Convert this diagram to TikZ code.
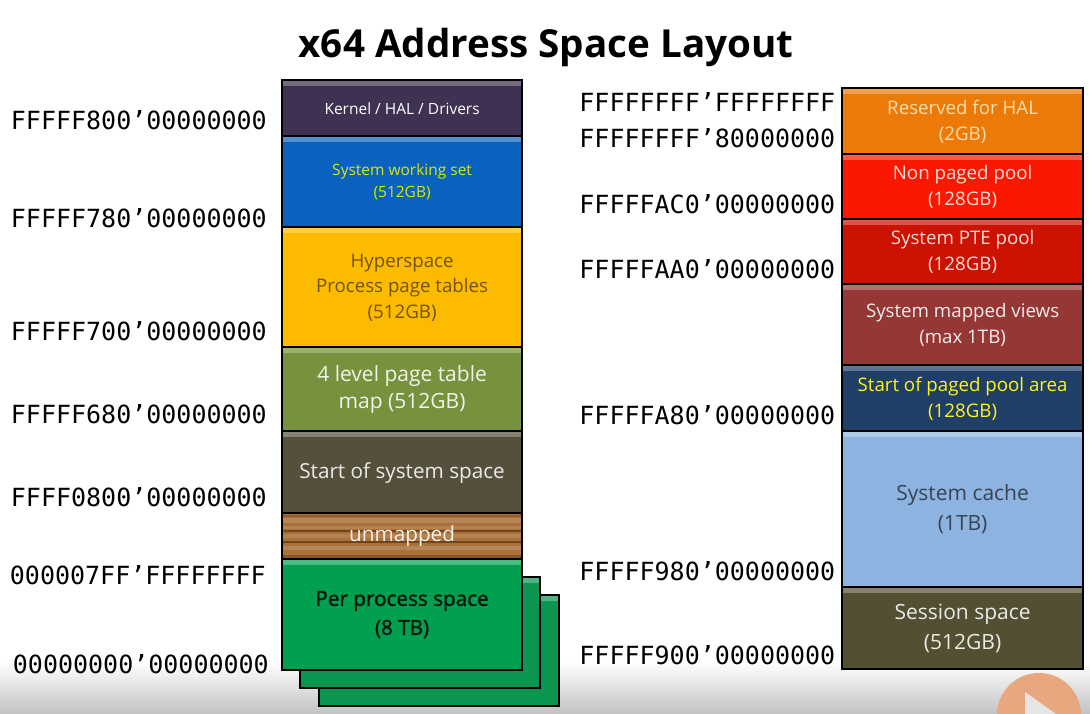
\documentclass[tikz,border=0pt]{standalone}
\usepackage{fontspec}
\setmainfont{Open Sans}
\newfontfamily\addrfont{DejaVu Sans Mono}
\newfontfamily\titlefont{Open Sans}[BoldFont={Open Sans Bold}]
\definecolor{cKernel}{HTML}{3F3151}
\definecolor{cWork}{HTML}{0A62BE}
\definecolor{cHyper}{HTML}{FDBB00}
\definecolor{cLevel}{HTML}{76923C}
\definecolor{cStart}{HTML}{55503C}
\definecolor{cWood}{HTML}{A9703A}
\definecolor{cGrain}{HTML}{5E3A16}
\definecolor{cGreen}{HTML}{00A050}
\definecolor{cSheet}{HTML}{0B9550}
\definecolor{cHal}{HTML}{EC7A08}
\definecolor{cHalText}{HTML}{FFDDA8}
\definecolor{cNon}{HTML}{FB1800}
\definecolor{cPte}{HTML}{CC1200}
\definecolor{cMapped}{HTML}{953735}
\definecolor{cPaged}{HTML}{1F3F66}
\definecolor{cCache}{HTML}{8DB3E0}
\definecolor{cSession}{HTML}{534F33}
\definecolor{cPlay}{HTML}{E9A77F}
\tikzset{
  x=1pt,y=-1pt,
  memblock/.style={draw=black,line width=2.6pt,inner sep=0pt,align=center,anchor=north west,
    xshift=-1.2pt,yshift=1.2pt,
    font=\fontsize{18.7}{25.5}\selectfont,
    path picture={\shade[top color=white,bottom color=#1,opacity=.3]
      (path picture bounding box.north west) rectangle ([yshift=-5pt]path picture bounding box.north east);},
    fill=#1},
  sheet/.style={memblock=cSheet,minimum width=240pt,minimum height=111pt},
  addr/.style={font=\addrfont\fontsize{25}{25}\selectfont,inner sep=0pt,anchor=east,text=black},
}
\begin{document}
\begin{tikzpicture}
\useasboundingbox (0,0) rectangle (1090,714);
\fill[white] (0,0) rectangle (1090,714);
\shade[top color=white,bottom color=black!24] (0,662) rectangle (1090,714);
% play badge
\begin{scope}
\clip (0,0) rectangle (1090,714);
\fill[cPlay] (1039,715) circle[radius=42];
\fill[black!10] (1025,692) -- (1056,714) -- (1025,714) -- cycle;
\end{scope}
% title
\node[font=\titlefont\bfseries\fontsize{38.6}{40}\selectfont,inner sep=0pt] (title) at (546,47) {x64 Address Space Layout};
% stacked sheets
\node[sheet] (sheetc) at (319,595) {};
\node[sheet] (sheetb) at (300,577) {};
% left column
\node[memblock=cKernel,text=white,minimum width=240pt,minimum height=57pt,font=\fontsize{15.5}{20}\selectfont] (kernel) at (282,80) {Kernel / HAL / Drivers};
\node[memblock=cWork,text=yellow!85!green,minimum width=240pt,minimum height=92pt,font=\fontsize{15.5}{22}\selectfont] (work) at (282,136) {System working set\\(512GB)};
\node[memblock=cHyper,text=black!55!cHyper,minimum width=240pt,minimum height=121pt] (hyper) at (282,227) {Hyperspace\\Process page tables\\(512GB)};
\node[memblock=cLevel,text=white!90!cLevel,minimum width=240pt,minimum height=85pt,font=\fontsize{21}{27}\selectfont] (level) at (282,347) {4 level page table\\map (512GB)};
\node[memblock=cStart,text=white!88!cStart,minimum width=240pt,minimum height=83pt,font=\fontsize{20.7}{27}\selectfont] (start) at (282,431) {Start of system space};
\node[draw=black,line width=2.6pt,fill=cWood,anchor=north west,xshift=-1.2pt,yshift=1.2pt,inner sep=0pt,minimum width=240pt,minimum height=47pt,
  text=white!90!cWood,font=\fontsize{20.7}{27}\selectfont,
  path picture={
    \foreach \yy/\ww/\oo in {-7/5/.35,-14/3/.3,-23/4/.3,-35/4/.35}{
      \draw[white!45!cWood,line width=\ww pt,opacity=\oo] ([yshift=\yy pt]path picture bounding box.north west) -- ([yshift=\yy pt]path picture bounding box.north east);}
    \foreach \yy/\ww/\oo in {-18/1.4/.75,-29/1.4/.8,-3/2/.3,-43/3/.45}{
      \draw[cGrain,line width=\ww pt,opacity=\oo] ([yshift=\yy pt]path picture bounding box.north west) -- ([yshift=\yy pt]path picture bounding box.north east);}
  }] (wood) at (282,513) {unmapped};
\node[memblock=cGreen,text=black!85!cGreen,minimum width=240pt,minimum height=111pt,font=\fontsize{20.7}{29}\selectfont\addfontfeature{FakeBold=1.6}] (green) at (282,559) {Per process space\\(8 TB)};
% right column
\node[memblock=cHal,text=cHalText,minimum width=241pt,minimum height=67pt] (hal) at (842,88) {Reserved for HAL\\(2GB)};
\node[memblock=cNon,text=white!85!cNon,minimum width=241pt,minimum height=66pt] (non) at (842,154) {Non paged pool\\(128GB)};
\node[memblock=cPte,text=white!85!cPte,minimum width=241pt,minimum height=66pt] (pte) at (842,219) {System PTE pool\\(128GB)};
\node[memblock=cMapped,text=white!90!cMapped,minimum width=241pt,minimum height=82pt] (mapped) at (842,284) {System mapped views\\(max 1TB)};
\node[memblock=cPaged,text=yellow!90!white,minimum width=241pt,minimum height=67pt] (paged) at (842,365) {Start of paged pool area\\(128GB)};
\node[memblock=cCache,text=black!62!cCache,minimum width=241pt,minimum height=157pt,font=\fontsize{21}{30}\selectfont] (cache) at (842,431) {System cache\\(1TB)};
\node[memblock=cSession,text=white!88!cSession,minimum width=241pt,minimum height=82pt,font=\fontsize{21}{30}\selectfont] (session) at (842,587) {Session space\\(512GB)};
% addresses
\node[addr] (a1) at (267,120) {FFFFF800’00000000};
\node[addr] (a2) at (267,218) {FFFFF780’00000000};
\node[addr] (a3) at (267,331) {FFFFF700’00000000};
\node[addr] (a4) at (267,414) {FFFFF680’00000000};
\node[addr] (a5) at (267,497) {FFFF0800’00000000};
\node[addr] (a6) at (266,575) {000007FF’FFFFFFFF};
\node[addr] (a7) at (269,664) {00000000’00000000};
\node[addr] (b1) at (835.5,102) {FFFFFFFF’FFFFFFFF};
\node[addr] (b2) at (835.5,138) {FFFFFFFF’80000000};
\node[addr] (b3) at (835.5,204) {FFFFFAC0’00000000};
\node[addr] (b4) at (835.5,269) {FFFFFAA0’00000000};
\node[addr] (b5) at (835.5,415) {FFFFFA80’00000000};
\node[addr] (b6) at (835.5,571) {FFFFF980’00000000};
\node[addr] (b7) at (835.5,655) {FFFFF900’00000000};
\end{tikzpicture}
\end{document}
